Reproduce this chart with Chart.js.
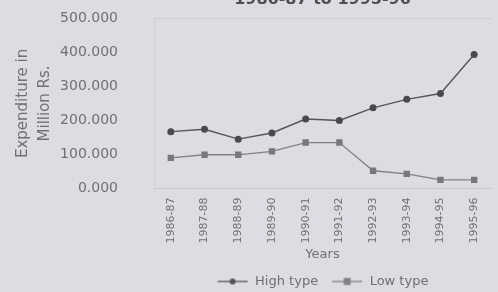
<!DOCTYPE html>
<html>
<head>
<meta charset="utf-8">
<script src="https://cdn.jsdelivr.net/npm/chart.js@4/dist/chart.umd.min.js"></script>
<style>
  html, body { margin: 0; padding: 0; background: #dcdde2; overflow: hidden; }
  #wrap { position: absolute; left: 0; top: -26px; width: 498px; height: 324px; }
</style>
</head>
<body>
<div id="wrap"><canvas id="grafico"></canvas></div>
<script>
const years = ["1986-87", "1987-88", "1988-89", "1989-90", "1990-91",
               "1991-92", "1992-93", "1993-94", "1994-95", "1995-96"];
const highType = [167, 174, 145, 163, 204, 200, 237, 262, 279, 394];
const lowType = [90, 99, 99, 109, 135, 135, 52, 43, 25, 25];
const yTicks = [0, 100, 200, 300, 400, 500];

const textColor = "#707070";
const fontName = "'DejaVu Sans', sans-serif";

// small line+marker picture for the legend
function legendIcon(color, style) {
    const c = document.createElement("canvas");
    c.width = 32; c.height = 10;
    const g = c.getContext("2d");
    g.strokeStyle = color; g.lineWidth = 1.3;
    g.beginPath(); g.moveTo(1, 5); g.lineTo(31, 5); g.stroke();
    g.fillStyle = color;
    if (style === "circle") {
        g.beginPath(); g.arc(16, 5, 3, 0, Math.PI * 2); g.fill();
    } else {
        g.fillRect(12.5, 1.5, 7, 7);
    }
    return c;
}

const ctx = document.getElementById("grafico").getContext("2d");
new Chart(ctx, {
    type: "line",
    data: {
        labels: years,
        datasets: [
            {
                label: "High type",
                data: highType,
                borderColor: "#555559",
                backgroundColor: "#4a4a4e",
                borderWidth: 1.4,
                pointStyle: "circle",
                pointRadius: 3.5,
                pointBorderWidth: 0,
                tension: 0
            },
            {
                label: "Low type",
                data: lowType,
                borderColor: "#808086",
                backgroundColor: "#77777c",
                borderWidth: 1.3,
                pointStyle: "rect",
                pointRadius: 4.5,
                pointBorderWidth: 0,
                tension: 0
            }
        ]
    },
    options: {
        responsive: true,
        maintainAspectRatio: false,
        animation: false,
        layout: { padding: { left: 0, right: 7, top: 0, bottom: 0 } },
        plugins: {
            title: {
                display: true,
                text: "1986-87 to 1995-96",
                color: "#505050",
                fullSize: false,
                font: { family: fontName, size: 16, weight: "bold" },
                padding: { top: 4, bottom: 9 }
            },
            legend: {
                position: "bottom",
                fullSize: false,
                labels: {
                    color: textColor,
                    font: { family: fontName, size: 13 },
                    usePointStyle: true,
                    pointStyleWidth: 32,
                    boxHeight: 10,
                    padding: 13,
                    generateLabels: function (chart) {
                        return chart.data.datasets.map((ds, i) => ({
                            text: ds.label,
                            fontColor: textColor,
                            pointStyle: legendIcon(ds.borderColor, i === 0 ? "circle" : "rect"),
                            datasetIndex: i,
                            lineWidth: 0,
                            hidden: false
                        }));
                    }
                }
            },
            tooltip: { enabled: false }
        },
        scales: {
            x: {
                offset: true,
                grid: { display: false, drawTicks: false },
                border: { display: true, color: "#c9cace" },
                ticks: {
                    color: textColor,
                    font: { family: fontName, size: 11 },
                    minRotation: 90,
                    maxRotation: 90,
                    padding: 9
                },
                title: {
                    display: true,
                    text: "Years",
                    color: textColor,
                    font: { family: fontName, size: 13 },
                    padding: { top: -6, bottom: 0 }
                }
            },
            y: {
                min: 0,
                max: 500,
                afterBuildTicks: axis => { axis.ticks = yTicks.map(v => ({ value: v })); },
                afterFit: axis => { axis.width = 154; },
                grid: {
                    drawTicks: false,
                    color: c => c.tick && c.tick.value === 500 ? "rgba(0,0,0,0.07)" : "rgba(0,0,0,0)"
                },
                border: { display: true, color: "rgba(0,0,0,0.04)" },
                ticks: {
                    color: textColor,
                    font: { family: fontName, size: 14 },
                    padding: 36,
                    callback: v => v.toFixed(3)
                },
                title: {
                    display: true,
                    text: ["Expenditure in", "Million Rs."],
                    color: textColor,
                    font: { family: fontName, size: 15, lineHeight: 1.45 },
                    padding: { top: 12, bottom: 0 }
                }
            }
        }
    }
});
</script>
</body>
</html>
